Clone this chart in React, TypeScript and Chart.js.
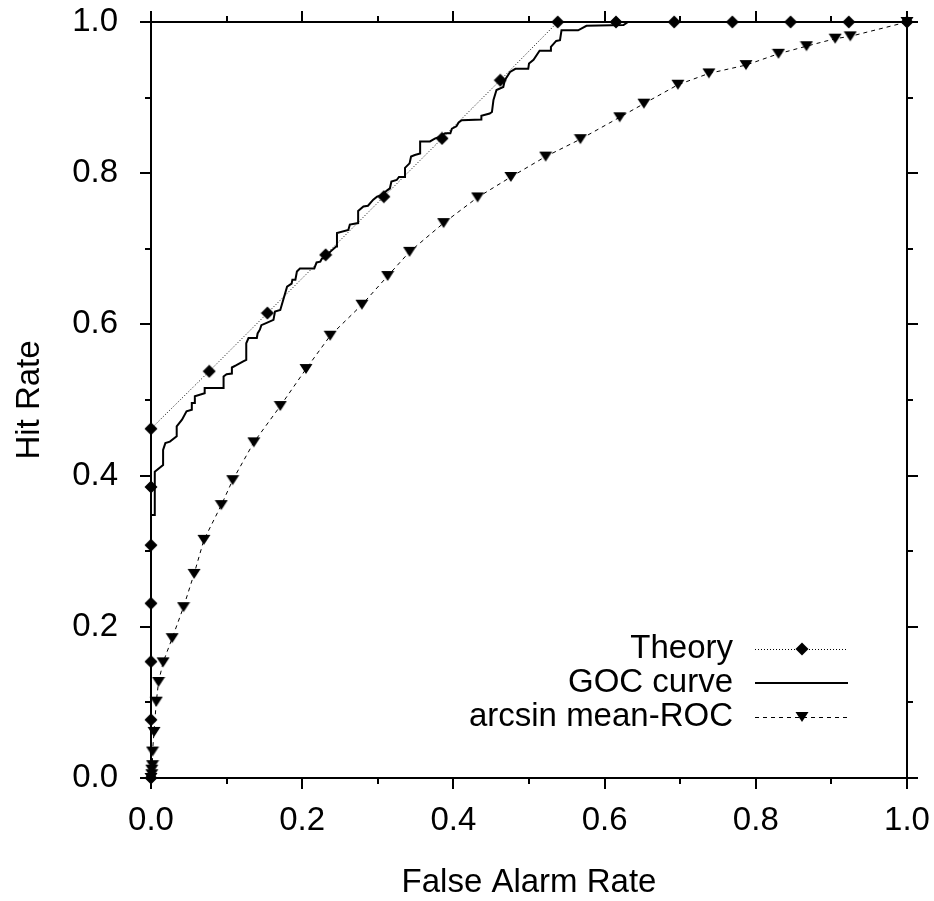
import React, { useEffect, useRef } from 'react';
import { Chart, registerables } from 'chart.js';

Chart.register(...registerables);

const FONT = '"Liberation Sans", Arial, Helvetica, sans-serif';
const FONT_SIZE = 33;

// ---- axis ticks ----
const majorTicks = [0, 0.2, 0.4, 0.6, 0.8, 1.0];
const minorTicks = [0.1, 0.3, 0.5, 0.7, 0.9];
const tickLabels = ['0.0', '0.2', '0.4', '0.6', '0.8', '1.0'];
const xAxisTitle = 'False Alarm Rate';
const yAxisTitle = 'Hit Rate';
const seriesNames = ['Theory', 'GOC curve', 'arcsin mean-ROC'];

// ---- Theory (diamonds, dotted) ----
const theoryX = [0, 0, 0, 0, 0, 0, 0, 0.077, 0.154, 0.231, 0.308, 0.385, 0.462, 0.538, 0.615, 0.692, 0.769, 0.846, 0.923, 1.0];
const theoryY = [0, 0.077, 0.154, 0.231, 0.308, 0.385, 0.462, 0.538, 0.615, 0.692, 0.769, 0.846, 0.923, 1.0, 1.0, 1.0, 1.0, 1.0, 1.0, 1.0];

// ---- GOC curve (solid staircase) ----
const gocX = [0, 0, 0.005, 0.005, 0.016, 0.016, 0.019, 0.025, 0.034, 0.034, 0.041, 0.047, 0.054, 0.054, 0.058, 0.058, 0.071, 0.071, 0.096, 0.096,
  0.100, 0.107, 0.107, 0.113, 0.122, 0.126, 0.126, 0.129, 0.140, 0.141, 0.144, 0.146, 0.153, 0.162, 0.164, 0.171, 0.180, 0.186, 0.187, 0.191,
  0.193, 0.197, 0.216, 0.219, 0.224, 0.226, 0.232, 0.237, 0.245, 0.246, 0.261, 0.263, 0.274, 0.274, 0.281, 0.287, 0.294, 0.299, 0.305, 0.312,
  0.316, 0.318, 0.325, 0.328, 0.336, 0.336, 0.342, 0.344, 0.349, 0.356, 0.356, 0.369, 0.376, 0.382, 0.389, 0.396, 0.398, 0.404, 0.407, 0.411,
  0.437, 0.437, 0.448, 0.451, 0.453, 0.457, 0.466, 0.468, 0.475, 0.482, 0.499, 0.500, 0.506, 0.514, 0.529, 0.529, 0.536, 0.541, 0.543, 0.565,
  0.576, 0.625, 0.631, 1.0];
const gocY = [0, 0.348, 0.348, 0.405, 0.414, 0.434, 0.443, 0.445, 0.452, 0.465, 0.474, 0.485, 0.487, 0.496, 0.496, 0.505, 0.509, 0.516, 0.516, 0.531,
  0.534, 0.535, 0.543, 0.546, 0.551, 0.553, 0.575, 0.582, 0.582, 0.588, 0.593, 0.599, 0.602, 0.606, 0.617, 0.619, 0.650, 0.654, 0.659, 0.659,
  0.670, 0.674, 0.674, 0.682, 0.683, 0.687, 0.688, 0.696, 0.703, 0.721, 0.725, 0.732, 0.734, 0.750, 0.756, 0.757, 0.765, 0.769, 0.771, 0.777,
  0.780, 0.789, 0.791, 0.795, 0.795, 0.807, 0.813, 0.822, 0.824, 0.826, 0.842, 0.842, 0.846, 0.848, 0.853, 0.853, 0.859, 0.862, 0.867, 0.870,
  0.871, 0.876, 0.879, 0.881, 0.897, 0.910, 0.914, 0.923, 0.934, 0.938, 0.938, 0.945, 0.950, 0.962, 0.962, 0.967, 0.975, 0.976, 0.989, 0.989,
  0.995, 0.996, 1.0, 1.0];

// ---- arcsin mean-ROC (down triangles, dashed) ----
const meanX = [0, 0.001, 0.001, 0.002, 0.002, 0.004, 0.007, 0.010, 0.016, 0.028, 0.043, 0.057, 0.070, 0.093, 0.108, 0.136, 0.171, 0.205, 0.237,
  0.279, 0.313, 0.342, 0.387, 0.432, 0.476, 0.522, 0.568, 0.620, 0.652, 0.697, 0.738, 0.787, 0.830, 0.867, 0.905, 0.925, 1.0];
const meanY = [0, 0.005, 0.011, 0.017, 0.035, 0.061, 0.101, 0.127, 0.153, 0.185, 0.226, 0.270, 0.315, 0.361, 0.394, 0.444, 0.492, 0.541, 0.585,
  0.626, 0.664, 0.696, 0.734, 0.768, 0.795, 0.822, 0.845, 0.874, 0.892, 0.917, 0.932, 0.943, 0.958, 0.968, 0.978, 0.981, 1.0];

const toPoints = (xs: number[], ys: number[]) => xs.map((x, i) => ({ x, y: ys[i] }));

function drawDiamond(ctx: CanvasRenderingContext2D, x: number, y: number, r: number) {
  ctx.beginPath();
  ctx.moveTo(x, y - r);
  ctx.lineTo(x + r, y);
  ctx.lineTo(x, y + r);
  ctx.lineTo(x - r, y);
  ctx.closePath();
  ctx.fill();
}
// gnuplot-like flat down triangle: width w, height h, centred on bbox
function drawDownTriangle(ctx: CanvasRenderingContext2D, x: number, y: number, w: number, h: number) {
  ctx.beginPath();
  ctx.moveTo(x - w / 2, y - h / 2);
  ctx.lineTo(x + w / 2, y - h / 2);
  ctx.lineTo(x, y + h / 2);
  ctx.closePath();
  ctx.fill();
}

function makeMarker(kind: 'diamond' | 'triangle'): HTMLCanvasElement {
  const c = document.createElement('canvas');
  c.width = 14;
  c.height = 14;
  const g = c.getContext('2d') as CanvasRenderingContext2D;
  g.fillStyle = '#000';
  if (kind === 'diamond') drawDiamond(g, 7, 7, 6.5);
  else drawDownTriangle(g, 7, 7, 13, 10);
  return c;
}

const framePlugin = {
  id: 'gnuframe',
  beforeDatasetsDraw(chart: any) {
    const ctx: CanvasRenderingContext2D = chart.ctx;
    const xs = chart.scales.x;
    const ys = chart.scales.y;
    const { left, right, top, bottom } = chart.chartArea;
    ctx.save();
    ctx.strokeStyle = '#000';
    ctx.lineWidth = 2;
    ctx.strokeRect(left, top, right - left, bottom - top);
    const drawTick = (v: number, len: number) => {
      const px = Math.round(xs.getPixelForValue(v));
      const py = Math.round(ys.getPixelForValue(v));
      ctx.beginPath();
      ctx.moveTo(px, bottom); ctx.lineTo(px, bottom + len);
      ctx.moveTo(px, top); ctx.lineTo(px, top - len);
      ctx.moveTo(left, py); ctx.lineTo(left - len, py);
      ctx.moveTo(right, py); ctx.lineTo(right + len, py);
      ctx.stroke();
    };
    majorTicks.forEach((v) => drawTick(v, 11));
    minorTicks.forEach((v) => drawTick(v, 6));

    ctx.fillStyle = '#000';
    ctx.font = `${FONT_SIZE}px ${FONT}`;
    ctx.textAlign = 'center';
    ctx.textBaseline = 'middle';
    majorTicks.forEach((v, i) => {
      ctx.fillText(tickLabels[i], xs.getPixelForValue(v), bottom + 43);
    });
    ctx.textAlign = 'right';
    majorTicks.forEach((v, i) => {
      ctx.fillText(tickLabels[i], left - 33, ys.getPixelForValue(v));
    });
    ctx.textAlign = 'center';
    ctx.fillText(xAxisTitle, (left + right) / 2, bottom + 105);
    ctx.save();
    ctx.translate(30, (top + bottom) / 2);
    ctx.rotate(-Math.PI / 2);
    ctx.fillText(yAxisTitle, 0, 0);
    ctx.restore();
    ctx.restore();
  },
  afterDraw(chart: any) {
    const ctx: CanvasRenderingContext2D = chart.ctx;
    const { right, bottom } = chart.chartArea;
    ctx.save();
    ctx.fillStyle = '#000';
    ctx.strokeStyle = '#000';
    ctx.font = `${FONT_SIZE}px ${FONT}`;
    ctx.textAlign = 'right';
    ctx.textBaseline = 'middle';
    const textX = right - 174;
    const x0 = right - 152;
    const x1 = right - 59;
    const xm = right - 105;
    const rows = [bottom - 129, bottom - 95, bottom - 61];
    // Theory
    ctx.fillText(seriesNames[0], textX, rows[0]);
    ctx.lineWidth = 1;
    ctx.setLineDash([1, 2]);
    ctx.beginPath(); ctx.moveTo(x0, rows[0] + 0.5); ctx.lineTo(x1, rows[0] + 0.5); ctx.stroke();
    ctx.setLineDash([]);
    drawDiamond(ctx, xm, rows[0], 6.5);
    // GOC
    ctx.fillText(seriesNames[1], textX, rows[1]);
    ctx.lineWidth = 2;
    ctx.beginPath(); ctx.moveTo(x0, rows[1]); ctx.lineTo(x1, rows[1]); ctx.stroke();
    // mean
    ctx.fillText(seriesNames[2], textX, rows[2]);
    ctx.lineWidth = 1;
    ctx.setLineDash([4, 4]);
    ctx.beginPath(); ctx.moveTo(x0, rows[2] + 0.5); ctx.lineTo(x1, rows[2] + 0.5); ctx.stroke();
    ctx.setLineDash([]);
    drawDownTriangle(ctx, xm, rows[2], 13, 10);
    ctx.restore();
  },
};

export default function App() {
  const ref = useRef<HTMLCanvasElement | null>(null);
  useEffect(() => {
    if (!ref.current) return;
    const diamond = makeMarker('diamond');
    const tri = makeMarker('triangle');
    const chart = new Chart(ref.current, {
      type: 'scatter',
      data: {
        datasets: [
          {
            label: seriesNames[0],
            data: toPoints(theoryX, theoryY),
            showLine: true,
            borderColor: '#000',
            borderWidth: 1,
            borderDash: [1, 2],
            pointStyle: diamond,
            pointRadius: 7,
            clip: false,
          } as any,
          {
            label: seriesNames[1],
            data: toPoints(gocX, gocY),
            showLine: true,
            borderColor: '#000',
            borderWidth: 2,
            pointRadius: 0,
            clip: false,
          } as any,
          {
            label: seriesNames[2],
            data: toPoints(meanX, meanY),
            showLine: true,
            borderColor: '#000',
            borderWidth: 1,
            borderDash: [4, 4],
            pointStyle: tri,
            pointRadius: 7,
            clip: false,
          } as any,
        ],
      },
      options: {
        responsive: false,
        animation: false,
        events: [],
        layout: { padding: { top: 22, right: 27, left: 0, bottom: 0 } },
        plugins: { legend: { display: false }, tooltip: { enabled: false } },
        scales: {
          x: {
            type: 'linear',
            min: 0,
            max: 1,
            ticks: { display: false },
            grid: { display: false },
            border: { display: false },
            afterFit: (s: any) => { s.height = 123; },
          },
          y: {
            type: 'linear',
            min: 0,
            max: 1,
            ticks: { display: false },
            grid: { display: false },
            border: { display: false },
            afterFit: (s: any) => { s.width = 151; },
          },
        },
      },
      plugins: [framePlugin],
    });
    return () => chart.destroy();
  }, []);
  return (
    <div style={{ position: 'fixed', left: 0, top: 0, width: 934, height: 901, background: '#fff' }}>
      <canvas ref={ref} width={934} height={901} style={{ display: 'block' }} />
    </div>
  );
}
